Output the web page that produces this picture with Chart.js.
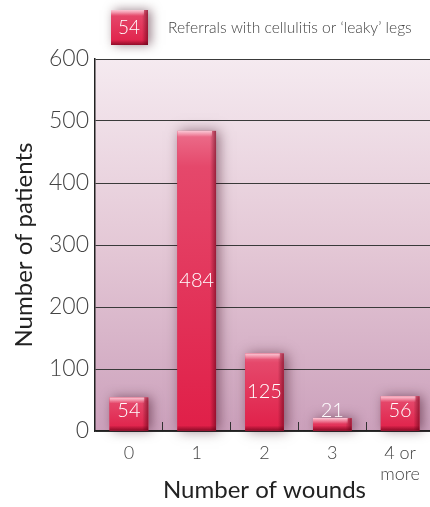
<!DOCTYPE html>
<html>
<head>
<meta charset="utf-8">
<script src="https://cdn.jsdelivr.net/npm/chart.js@4"></script>
<style>
  html, body { margin: 0; padding: 0; background: #fff; overflow: hidden; }
  #wrap { width: 440px; height: 507px; }
</style>
</head>
<body>
<div id="wrap"><canvas id="myChart" width="440" height="507"></canvas></div>
<script>
var ctx = document.getElementById('myChart').getContext('2d');

var categories = ['0', '1', '2', '3', ['4 or', 'more']];
var patients = [54, 484, 125, 21, 56];
var yTicks = [0, 100, 200, 300, 400, 500, 600];
var legendValue = 54;
var legendText = 'Referrals with cellulitis or \u2018leaky\u2019 legs';

var FONT = 'Lato, "Open Sans", sans-serif';

// pink-to-mauve panel behind the bars
var panelBg = {
  id: 'panelBg',
  beforeDraw: function(chart) {
    var c = chart.ctx, a = chart.chartArea;
    var g = c.createLinearGradient(0, a.top, 0, a.bottom);
    g.addColorStop(0, '#f5eaf0');
    g.addColorStop(0.5, '#e4c8d6');
    g.addColorStop(1, '#cca1bc');
    c.save();
    c.fillStyle = g;
    c.fillRect(a.left, a.top, chart.width - a.left, a.bottom - a.top);
    c.restore();
  }
};

function redBox(c, x, y, w, h) {
  var g = c.createLinearGradient(0, y, 0, y + h);
  g.addColorStop(0, '#ec6f8c');
  g.addColorStop(0.12, '#e5486b');
  g.addColorStop(1, '#e01f48');
  c.fillStyle = g;
  c.fillRect(x, y, w, h);
  // darker right and bottom bevel
  c.shadowColor = 'transparent';
  var r = c.createLinearGradient(x + w - 6, 0, x + w, 0);
  r.addColorStop(0, 'rgba(90,0,20,0)');
  r.addColorStop(1, 'rgba(90,0,20,0.55)');
  c.fillStyle = r;
  c.fillRect(x + w - 6, y, 6, h);
  var b = c.createLinearGradient(0, y + h - 5, 0, y + h);
  b.addColorStop(0, 'rgba(90,0,20,0)');
  b.addColorStop(1, 'rgba(90,0,20,0.6)');
  c.fillStyle = b;
  c.fillRect(x, y + h - 5, w, 5);
  // light top edge
  var t = c.createLinearGradient(0, y, 0, y + 6);
  t.addColorStop(0, 'rgba(255,220,230,0.8)');
  t.addColorStop(1, 'rgba(255,220,230,0)');
  c.fillStyle = t;
  c.fillRect(x, y, w - 4, 6);
}

// bars with soft drop shadow and bevel, plus white value labels
var beveledBars = {
  id: 'beveledBars',
  afterDatasetsDraw: function(chart) {
    var c = chart.ctx, meta = chart.getDatasetMeta(0);
    c.save();
    meta.data.forEach(function(bar, i) {
      var p = bar.getProps(['x', 'y', 'base', 'width'], true);
      var x = p.x - p.width / 2, y = p.y, h = p.base - p.y;
      c.save();
      c.shadowColor = 'rgba(50,0,20,0.5)';
      c.shadowBlur = 12;
      c.shadowOffsetX = 3;
      c.shadowOffsetY = 0;
      c.fillStyle = '#e01f48';
      c.fillRect(x, y, p.width, h);
      c.restore();
      c.save();
      redBox(c, x, y, p.width, h);
      c.restore();
      var ly = Math.min((p.y + p.base) / 2, p.base - 20);
      c.fillStyle = '#ffffff';
      c.font = '300 20px ' + FONT;
      c.textAlign = 'center';
      c.textBaseline = 'middle';
      c.fillText(String(patients[i]), p.x, ly);
    });
    c.restore();
  }
};

// single legend entry at the top
var topLegend = {
  id: 'topLegend',
  afterDraw: function(chart) {
    var c = chart.ctx;
    c.save();
    c.shadowColor = 'rgba(50,0,20,0.5)';
    c.shadowBlur = 10;
    c.shadowOffsetX = 3;
    c.fillStyle = '#e01f48';
    c.fillRect(111, 10, 37, 35);
    c.restore();
    c.save();
    redBox(c, 111, 10, 37, 35);
    c.fillStyle = '#ffffff';
    c.font = '300 19px ' + FONT;
    c.textAlign = 'center';
    c.textBaseline = 'middle';
    c.fillText(String(legendValue), 129, 28);
    c.fillStyle = '#444';
    c.font = '300 15.6px ' + FONT;
    c.textAlign = 'left';
    c.fillText(legendText, 168, 28);
    c.restore();
  }
};

new Chart(ctx, {
  type: 'bar',
  data: {
    labels: categories,
    datasets: [{
      data: patients,
      backgroundColor: 'rgba(0,0,0,0)',
      borderWidth: 0,
      barPercentage: 0.57,
      categoryPercentage: 1
    }]
  },
  options: {
    responsive: false,
    animation: false,
    layout: { padding: { top: 59, left: 0, right: 0, bottom: 0 } },
    plugins: {
      legend: { display: false },
      tooltip: { enabled: false }
    },
    scales: {
      y: {
        min: 0,
        max: 600,
        afterBuildTicks: function(s) {
          s.ticks = yTicks.map(function(v) { return { value: v }; });
        },
        afterFit: function(s) { s.width = 95; },
        grid: {
          color: '#3a3a3a',
          lineWidth: 1,
          drawTicks: false
        },
        border: { color: '#222', width: 1.5 },
        ticks: {
          color: '#444',
          padding: 6,
          font: { family: FONT, size: 23, weight: 300 }
        },
        title: {
          display: true,
          text: 'Number of patients',
          color: '#222',
          padding: { top: 10, bottom: 0 },
          font: { family: FONT, size: 24 }
        }
      },
      x: {
        offset: true,
        afterFit: function(s) { s.height = 76; },
        grid: {
          offset: true,
          drawOnChartArea: false,
          drawTicks: true,
          tickLength: -9,
          color: '#333'
        },
        border: { color: '#222', width: 1.5 },
        ticks: {
          color: '#444',
          padding: 20,
          font: { family: FONT, size: 18, weight: 300 }
        },
        title: {
          display: true,
          text: 'Number of wounds',
          color: '#222',
          padding: { top: 0, bottom: 2 },
          font: { family: FONT, size: 24 }
        }
      }
    }
  },
  plugins: [panelBg, beveledBars, topLegend]
});
</script>
</body>
</html>
